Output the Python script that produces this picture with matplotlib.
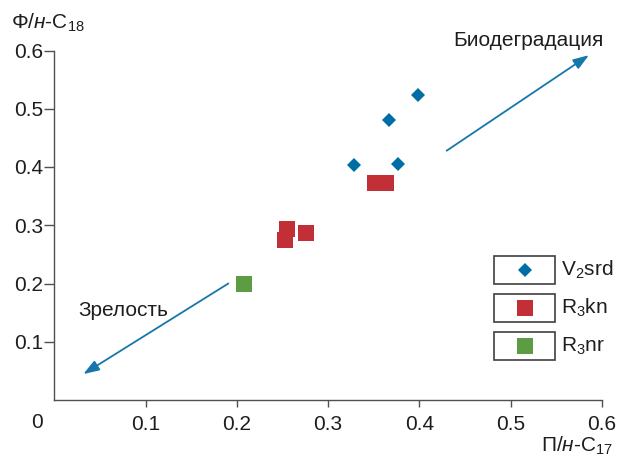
import matplotlib
matplotlib.use("Agg")
import matplotlib.pyplot as plt
from matplotlib.patches import Rectangle
from matplotlib.lines import Line2D

plt.rcParams['font.family'] = ['Liberation Sans', 'DejaVu Sans']
plt.rcParams['mathtext.fontset'] = 'custom'
plt.rcParams['mathtext.rm'] = 'Liberation Sans'
plt.rcParams['mathtext.it'] = 'Liberation Sans:italic'
plt.rcParams['mathtext.bf'] = 'Liberation Sans:bold'

# Series: pristane / n-C17 (x) versus phytane / n-C18 (y)
v2srd_x = [0.399, 0.367, 0.328, 0.377]
v2srd_y = [0.523, 0.480, 0.404, 0.406]

r3kn_x = [0.351, 0.363, 0.253, 0.255, 0.276]
r3kn_y = [0.372, 0.372, 0.275, 0.294, 0.287]

r3nr_x = [0.208]
r3nr_y = [0.199]

series_names = ["V$_2$srd", "R$_3$kn", "R$_3$nr"]
x_ticks = [0.1, 0.2, 0.3, 0.4, 0.5, 0.6]
y_ticks = [0.1, 0.2, 0.3, 0.4, 0.5, 0.6]

BLUE = "#006ea5"
RED = "#c22f37"
GREEN = "#5c9c42"
ARROW = "#1677ab"
TEXT = "#1e1e1e"
AXIS = "#505050"
FS = 15

W, H = 618, 457
fig = plt.figure(figsize=(W / 100, H / 100), dpi=100)


def fx(px):
    return px / W


def fy(py):
    return 1 - py / H


ax = fig.add_axes([fx(54.5), fy(400), fx(601.7) - fx(54.5), fy(50.5) - fy(400)])
ax.set_xlim(0, 0.6)
ax.set_ylim(0, 0.6)
for side in ("top", "right"):
    ax.spines[side].set_visible(False)
for side in ("left", "bottom"):
    ax.spines[side].set_color(AXIS)
    ax.spines[side].set_linewidth(1.0)

ax.set_xticks(x_ticks)
ax.set_yticks(y_ticks)
ax.set_xticklabels([f"{t:.1f}" for t in x_ticks])
ax.set_yticklabels([f"{t:.1f}" for t in y_ticks])
ax.tick_params(axis="both", direction="out", color=AXIS, width=1.0,
               labelsize=FS, labelcolor=TEXT)
ax.tick_params(axis="x", length=5, pad=6)
ax.tick_params(axis="y", length=7, pad=1.0)

# Data markers
ms_sq = 11
ms_d = 7.6
ax.plot(v2srd_x, v2srd_y, linestyle="none", marker="D", markersize=ms_d,
        color=BLUE, markeredgewidth=0, clip_on=False, zorder=3)
ax.plot(r3kn_x, r3kn_y, linestyle="none", marker="s", markersize=ms_sq,
        color=RED, markeredgewidth=0, clip_on=False, zorder=3)
ax.plot(r3nr_x, r3nr_y, linestyle="none", marker="s", markersize=ms_sq,
        color=GREEN, markeredgewidth=0, clip_on=False, zorder=3)

# Trend arrows
arrow_style = dict(arrowstyle="-|>,head_length=0.95,head_width=0.33",
                   mutation_scale=10, color=ARROW, lw=1.3,
                   shrinkA=0, shrinkB=0)
ax.annotate("", xy=(0.586, 0.592), xytext=(0.430, 0.428),
            arrowprops=arrow_style, annotation_clip=False)
ax.annotate("", xy=(0.0316, 0.0445), xytext=(0.1906, 0.200),
            arrowprops=arrow_style, annotation_clip=False)

fig.text(fx(453), fy(40), "Биодеградация", fontsize=FS, color=TEXT,
         ha="left", va="center")
fig.text(fx(78), fy(310), "Зрелость", fontsize=FS, color=TEXT,
         ha="left", va="center")

# Axis titles
fig.text(fx(11), fy(23), "Φ/$\\mathit{н}$-C$_{18}$", fontsize=FS, color=TEXT,
         ha="left", va="center")
fig.text(fx(613), fy(446), "П/$\\mathit{н}$-C$_{17}$", fontsize=FS, color=TEXT,
         ha="right", va="center")
fig.text(fx(37), fy(422), "0", fontsize=FS, color=TEXT, ha="center", va="center")

# Legend: one framed box per series, label to the right
legend_markers = [("D", ms_d, BLUE), ("s", ms_sq, RED), ("s", ms_sq, GREEN)]
box_tops = [256, 294, 332]
for name, (mk, ms, col), top in zip(series_names, legend_markers, box_tops):
    fig.patches.append(Rectangle((fx(494), fy(top + 28)), fx(555) - fx(494),
                                 fy(top) - fy(top + 28), transform=fig.transFigure,
                                 fill=False, edgecolor="#404040", linewidth=1.2))
    cy = top + 14
    fig.add_artist(Line2D([fx(524.5)], [fy(cy)], transform=fig.transFigure,
                          linestyle="none", marker=mk, markersize=ms, color=col,
                          markeredgewidth=0))
    fig.text(fx(561), fy(cy), name, fontsize=FS, color=TEXT,
             ha="left", va="center")

fig.savefig("out.png", dpi=100)
